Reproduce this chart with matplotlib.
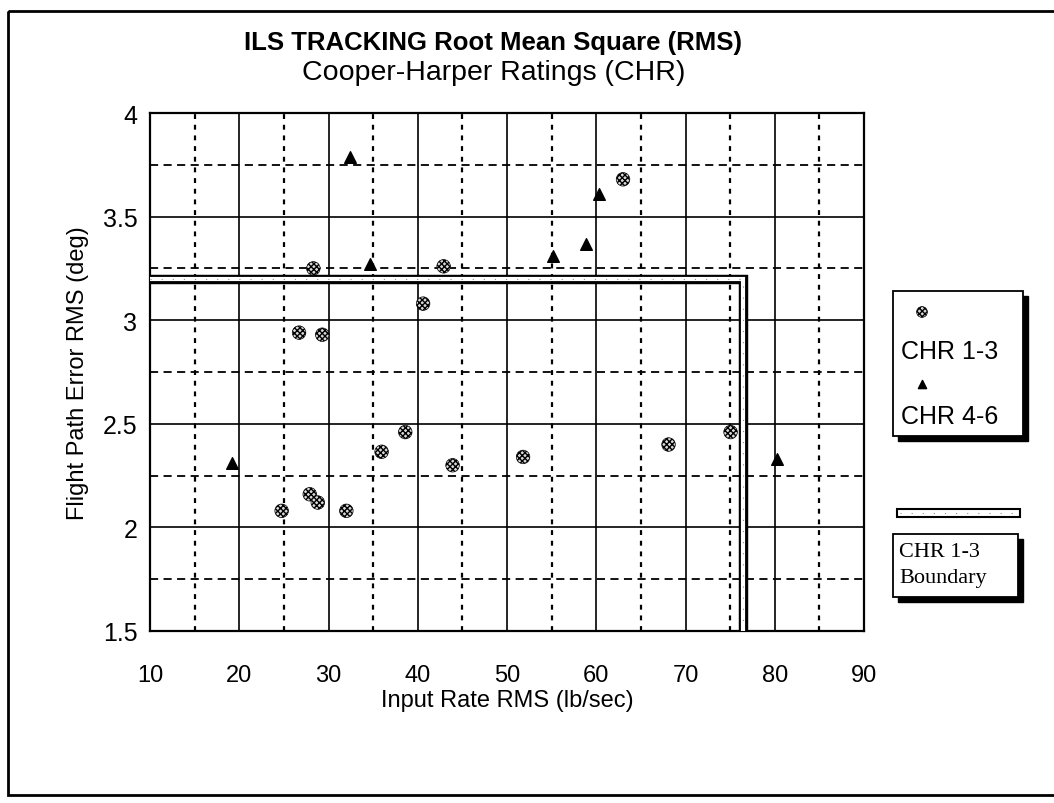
import matplotlib
matplotlib.use("Agg")
import matplotlib.pyplot as plt
from matplotlib.patches import Rectangle
from matplotlib.lines import Line2D

plt.rcParams['font.family'] = ['Liberation Sans', 'DejaVu Sans']
plt.rcParams['hatch.linewidth'] = 1.0

# CHR 1-3 (satisfactory) runs
chr13_x = [24.75, 27.9, 28.8, 32.0, 35.95, 28.3, 42.9, 40.6, 63.0, 68.1, 75.05,
           26.7, 29.3, 38.6, 43.9, 51.8]
chr13_y = [2.08, 2.16, 2.12, 2.08, 2.365, 3.25, 3.26, 3.08, 3.68, 2.40, 2.46,
           2.94, 2.93, 2.46, 2.30, 2.34]

# CHR 4-6 runs
chr46_x = [19.15, 32.4, 34.65, 55.2, 58.9, 60.3, 80.3]
chr46_y = [2.31, 3.79, 3.27, 3.31, 3.37, 3.61, 2.33]

# CHR 1-3 boundary corner
bound_x = 76.4
bound_y = 3.2

xticks = [10, 20, 30, 40, 50, 60, 70, 80, 90]
yticks = [1.5, 2, 2.5, 3, 3.5, 4]
yticklabels = ['1.5', '2', '2.5', '3', '3.5', '4']

W, H = 1054, 804
fig = plt.figure(figsize=(W / 100, H / 100), dpi=100)
ax = fig.add_axes([150 / W, 1 - 632 / H, 714 / W, 518 / H])
ax.set_xlim(10, 90)
ax.set_ylim(1.5, 4)
ax.set_xticks(xticks)
ax.set_xticks([15, 25, 35, 45, 55, 65, 75, 85], minor=True)
ax.set_yticks(yticks)
ax.set_yticklabels(yticklabels)
ax.set_yticks([1.75, 2.25, 2.75, 3.25, 3.75], minor=True)
ax.tick_params(which='both', length=0)
ax.tick_params(axis='x', labelsize=17, pad=24)
ax.tick_params(axis='y', labelsize=18, pad=9)
ax.grid(which='major', color='black', lw=1.2, ls='-')
ax.grid(which='minor', axis='x', color='black', lw=1.6, ls=(0, (2.2, 2.6)))
ax.grid(which='minor', axis='y', color='black', lw=1.3, ls=(0, (4.5, 3)))
for s in ax.spines.values():
    s.set_linewidth(1.6)
ax.set_axisbelow(True)

# boundary drawn as a hollow double line
for c, w in [('black', 6.8), ('white', 3.0)]:
    ax.plot([10, bound_x, bound_x], [bound_y, bound_y, 1.5], color=c,
            lw=w, solid_joinstyle='miter', solid_capstyle='butt', zorder=3)
ax.plot([10, bound_x, bound_x], [bound_y, bound_y, 1.5], color='0.55',
        lw=0.8, ls=(0, (1, 9)), zorder=3)

ax.scatter(chr13_x, chr13_y, s=95, marker='o', facecolor='0.85',
           edgecolor='black', hatch='xxxxxx', linewidths=0.5, zorder=4)
ax.scatter(chr46_x, chr46_y, s=70, marker='^', color='black', zorder=4)

ax.set_xlabel('Input Rate RMS (lb/sec)', fontsize=17, labelpad=2)
ax.set_ylabel('Flight Path Error RMS (deg)', fontsize=17, labelpad=10)

fig.text(493 / W, 1 - 43 / H, 'ILS TRACKING Root Mean Square (RMS)',
         ha='center', va='center', fontsize=18.5, fontweight='bold')
fig.text(494 / W, 1 - 73 / H, 'Cooper-Harper Ratings (CHR)',
         ha='center', va='center', fontsize=20.5)

# overlay in pixel units for the frame and legend boxes
lg = fig.add_axes([0, 0, 1, 1], zorder=5)
lg.set_xlim(0, W)
lg.set_ylim(H, 0)
lg.axis('off')
lg.patch.set_alpha(0)

lg.add_patch(Rectangle((8, 12), 1070, 784, fill=False, ec='black', lw=2.0))


def shadow_box(x0, y0, x1, y1):
    lg.add_patch(Rectangle((x0 + 5, y0 + 5), x1 - x0, y1 - y0, color='black'))
    lg.add_patch(Rectangle((x0, y0), x1 - x0, y1 - y0, fc='white',
                           ec='black', lw=1.3))


shadow_box(893, 292, 1023, 437)
lg.scatter([922], [313], s=60, marker='o', facecolor='0.85', edgecolor='black',
           hatch='xxxxxx', linewidths=0.5)
lg.text(901, 352, 'CHR 1-3', fontsize=18, va='center', ha='left')
lg.scatter([922], [385], s=35, marker='^', color='black')
lg.text(901, 417, 'CHR 4-6', fontsize=18, va='center', ha='left')

lg.add_patch(Rectangle((897, 510), 123, 8, fc='white', ec='black', lw=1.5))
lg.add_line(Line2D([900, 1017], [514, 514], color='0.55', lw=0.8,
                   ls=(0, (1, 9))))
shadow_box(893, 535, 1018, 598)
lg.text(899, 553, 'CHR 1-3', fontsize=16, va='center', ha='left',
        family='Liberation Serif')
lg.text(899, 579, 'Boundary', fontsize=16, va='center', ha='left',
        family='Liberation Serif')

fig.savefig('out.png', dpi=100)
